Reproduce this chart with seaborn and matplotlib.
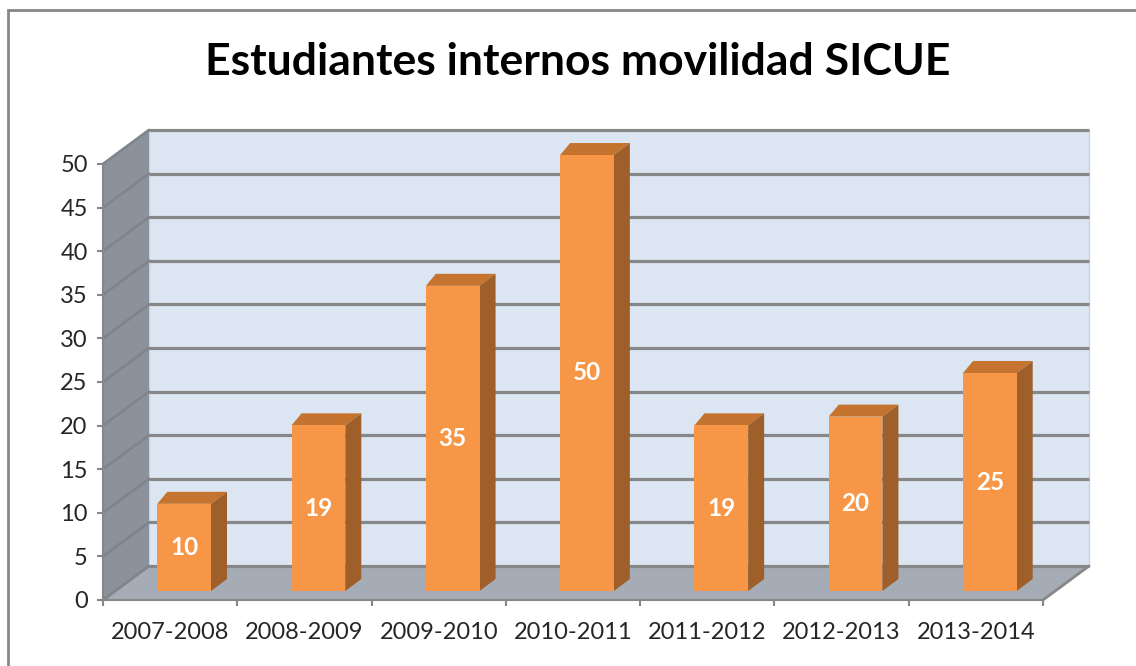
import matplotlib
matplotlib.use("Agg")
import matplotlib.pyplot as plt
import matplotlib.transforms as mtransforms
from matplotlib.patches import Polygon, Rectangle
import seaborn as sns
import pandas as pd
import numpy as np

# datos del gráfico
cursos = ["2007-2008", "2008-2009", "2009-2010", "2010-2011",
          "2011-2012", "2012-2013", "2013-2014"]
estudiantes = [10, 19, 35, 50, 19, 20, 25]
ticks_y = list(range(0, 55, 5))
titulo = "Estudiantes internos movilidad SICUE"

datos = pd.DataFrame({"curso": cursos, "estudiantes": estudiantes})

sns.set_style("white")
plt.rcParams["font.family"] = ["Lato", "DejaVu Sans"]

W, H = 1136, 666
fig = plt.figure(figsize=(W / 100, H / 100), dpi=100)
ax = fig.add_axes([103 / W, 66 / H, 940 / W, 436 / H])
ax.set_facecolor("none")

# pixeles por unidad de datos (plano frontal)
ppx = 940 / 7
ppy = 436 / 50
BX, BY = 46, 34          # profundidad de la pared del fondo
FX, FY = 14, 9           # cara frontal de las barras
DX, DY = 16, 12          # fondo de las barras

def p(x, y, dx=0, dy=0):
    return (x + dx / ppx, y + dy / ppy)

gris = "#878787"

# pared del fondo
x0, x1 = -0.5, 6.5
ax.add_patch(Polygon([p(x0, 0, BX, BY), p(x1, 0, BX, BY), p(x1, 50, BX, BY), p(x0, 50, BX, BY)],
                     closed=True, fc="#dce6f2", ec="#c9d3de", lw=1, zorder=0.5, clip_on=False))
# pared lateral
ax.add_patch(Polygon([p(x0, 0), p(x0, 50), p(x0, 50, BX, BY), p(x0, 0, BX, BY)],
                     closed=True, fc="#8b929b", ec="none", zorder=0.6, clip_on=False))
# suelo
ax.add_patch(Polygon([p(x0, 0), p(x1, 0), p(x1, 0, BX, BY), p(x0, 0, BX, BY)],
                     closed=True, fc="#a6acb5", ec="none", zorder=0.6, clip_on=False))
ax.plot(*zip(p(x1, 0), p(x1, 0, BX, BY)), color=gris, lw=2, zorder=0.7, clip_on=False)

# líneas de la cuadrícula
for v in ticks_y:
    ax.plot(*zip(p(x0, v, BX, BY), p(x1, v, BX, BY)), color=gris, lw=2.3,
            zorder=0.8, clip_on=False, solid_capstyle="butt")
    ax.plot(*zip(p(x0, v), p(x0, v, BX, BY)), color="#7e858e", lw=2.0,
            zorder=0.8, clip_on=False)

# barras
sns.barplot(data=datos, x="curso", y="estudiantes", color="#f79646",
            saturation=1, width=0.4, linewidth=0, errorbar=None, ax=ax, zorder=3)

frente = mtransforms.offset_copy(ax.transData, fig=fig, x=FX, y=FY, units="dots")
for barra in ax.patches[3:]:
    if not isinstance(barra, Rectangle):
        continue
    barra.set_transform(frente)
    barra.set_clip_on(False)
    bx0 = barra.get_x()
    bx1 = bx0 + barra.get_width()
    h = barra.get_height()
    # cara superior
    ax.add_patch(Polygon([p(bx0, h, FX, FY), p(bx1, h, FX, FY),
                          p(bx1, h, FX + DX, FY + DY), p(bx0, h, FX + DX - 6, FY + DY)],
                         closed=True, fc="#c4742f", ec="none", zorder=2.9, clip_on=False))
    # cara lateral
    ax.add_patch(Polygon([p(bx1, 0, FX, FY), p(bx1, h, FX, FY),
                          p(bx1, h, FX + DX, FY + DY), p(bx1, 0, FX + DX, FY + DY)],
                         closed=True, fc="#9e5f2a", ec="none", zorder=2.9, clip_on=False))
    ax.text(bx0 + barra.get_width() / 2, h / 2, f"{int(h)}", transform=frente,
            ha="center", va="center", color="white", fontsize=17.5,
            fontweight="bold", zorder=4)

# ejes
ax.set_xlim(x0, x1)
ax.set_ylim(0, 50)
ax.set_yticks(ticks_y)
ax.set_xticks(range(len(cursos)))
ax.set_xticklabels(cursos)
ax.set_xticks(np.arange(-0.5, len(cursos), 1), minor=True)
ax.set_xlabel("")
ax.set_ylabel("")
for lado in ["top", "right"]:
    ax.spines[lado].set_visible(False)
for lado in ["left", "bottom"]:
    ax.spines[lado].set_color(gris)
    ax.spines[lado].set_linewidth(1.5)
ax.tick_params(axis="y", length=4.5, width=1.5, color=gris, pad=6.5, labelsize=17, left=True)
ax.tick_params(axis="x", which="major", length=0, pad=16, labelsize=17)
ax.tick_params(axis="x", which="minor", length=4.5, width=1.5, color=gris, bottom=True)

fig.text(578 / W, 1 - 75 / H, titulo, ha="center", va="baseline",
         fontsize=32, fontweight="bold", color="black")

# marco del gráfico
fig.patches.append(Rectangle((8 / W, -0.1), 1.2, 1 - 10 / H + 0.1, transform=fig.transFigure,
                             fill=False, ec=gris, lw=2, zorder=0))

fig.savefig("out.png", dpi=100)
